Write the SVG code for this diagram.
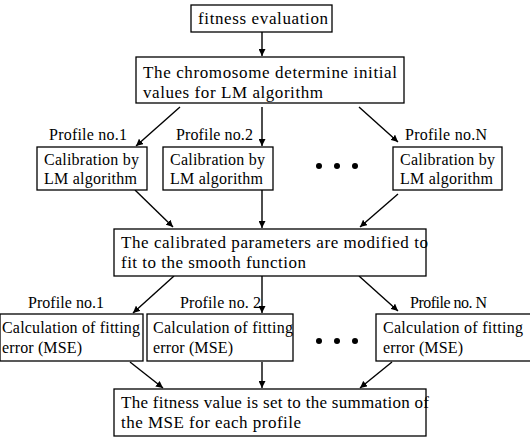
<svg xmlns="http://www.w3.org/2000/svg" width="530" height="439" viewBox="0 0 530 439">
<defs>
<style>
.box{fill:#fff;stroke:#000;stroke-width:1.3}
.t{font-family:"Liberation Serif","Times New Roman",serif;font-size:17px;fill:#000}
.s{font-family:"Liberation Serif","Times New Roman",serif;font-size:16px;fill:#000}
.p{font-family:"Liberation Serif","Times New Roman",serif;font-size:16px;fill:#000}
.c line{stroke:#000;stroke-width:1.4;marker-end:url(#ah)}
.dot{fill:#000}
</style>
<marker id="ah" viewBox="0 0 10 10" refX="10" refY="5" markerWidth="7" markerHeight="7" markerUnits="userSpaceOnUse" orient="auto">
<path d="M0,0 L10,5 L0,10 z" fill="#000"/>
</marker>
</defs>
<rect width="530" height="439" fill="#fff"/>
<g class="c" id="connectors">
<line x1="262" y1="32" x2="262" y2="56"/>
<line x1="180" y1="107" x2="136" y2="146"/>
<line x1="262" y1="107" x2="262" y2="146"/>
<line x1="359" y1="107" x2="398" y2="142"/>
<line x1="135" y1="190" x2="173" y2="227"/>
<line x1="262" y1="190" x2="262" y2="228"/>
<line x1="398" y1="194" x2="360" y2="227"/>
<line x1="174" y1="276" x2="133" y2="313"/>
<line x1="262" y1="276" x2="262" y2="313"/>
<line x1="359" y1="276" x2="398" y2="311"/>
<line x1="130" y1="362" x2="163" y2="388"/>
<line x1="262" y1="362" x2="262" y2="388"/>
<line x1="392" y1="362" x2="360" y2="388"/>
</g>
<g id="fitness">
<rect class="box" x="191" y="5" width="141" height="27"/>
<text class="t" x="198" y="24" textLength="130">fitness evaluation</text>
</g>
<g id="chromosome">
<rect class="box" x="136" y="57" width="268" height="46"/>
<text class="t" x="143" y="78" textLength="254">The chromosome determine initial</text>
<text class="t" x="143" y="98" textLength="180">values for LM algorithm</text>
</g>
<g id="labels1">
<text class="p" x="49" y="140" textLength="78">Profile no.1</text>
<text class="p" x="176" y="140" textLength="77">Profile no.2</text>
<text class="p" x="405" y="140" textLength="82">Profile no.N</text>
</g>
<g id="calib1">
<rect class="box" x="37" y="147" width="110" height="43"/>
<text class="s" x="44" y="165" textLength="95">Calibration by</text>
<text class="s" x="44" y="184" textLength="93">LM algorithm</text>
</g>
<g id="calib2">
<rect class="box" x="163" y="147" width="110" height="43"/>
<text class="s" x="170" y="165" textLength="95">Calibration by</text>
<text class="s" x="170" y="184" textLength="93">LM algorithm</text>
</g>
<g id="dots1">
<circle class="dot" cx="319" cy="166" r="3"/>
<circle class="dot" cx="337" cy="166" r="3"/>
<circle class="dot" cx="355" cy="166" r="3"/>
</g>
<g id="calibN">
<rect class="box" x="393" y="147" width="109" height="43"/>
<text class="s" x="400" y="165" textLength="95">Calibration by</text>
<text class="s" x="400" y="184" textLength="93">LM algorithm</text>
</g>
<g id="calibrated">
<rect class="box" x="114" y="229" width="312" height="47"/>
<text class="t" x="121" y="248" textLength="307">The calibrated parameters are modified to</text>
<text class="t" x="121" y="268" textLength="185">fit to the smooth function</text>
</g>
<g id="labels2">
<text class="p" x="28" y="308" textLength="76">Profile no.1</text>
<text class="p" x="180" y="308" textLength="81">Profile no. 2</text>
<text class="p" x="410" y="308" textLength="77">Profile no. N</text>
</g>
<g id="calc1">
<rect class="box" x="0" y="314" width="143" height="47"/>
<text class="s" x="2" y="333" textLength="138">Calculation of fitting</text>
<text class="s" x="2" y="353" textLength="80">error (MSE)</text>
</g>
<g id="calc2">
<rect class="box" x="147" y="314" width="146" height="47"/>
<text class="s" x="153" y="333" textLength="140">Calculation of fitting</text>
<text class="s" x="153" y="353" textLength="80">error (MSE)</text>
</g>
<g id="dots2">
<circle class="dot" cx="319" cy="341" r="3"/>
<circle class="dot" cx="337" cy="341" r="3"/>
<circle class="dot" cx="355" cy="341" r="3"/>
</g>
<g id="calcN">
<rect class="box" x="376" y="314" width="160" height="47"/>
<text class="s" x="383" y="333" textLength="140">Calculation of fitting</text>
<text class="s" x="383" y="353" textLength="80">error (MSE)</text>
</g>
<g id="summation">
<rect class="box" x="114" y="389" width="312" height="47"/>
<text class="t" x="121" y="408" textLength="308">The fitness value is set to the summation of</text>
<text class="t" x="121" y="428" textLength="180">the MSE for each profile</text>
</g>
</svg>
